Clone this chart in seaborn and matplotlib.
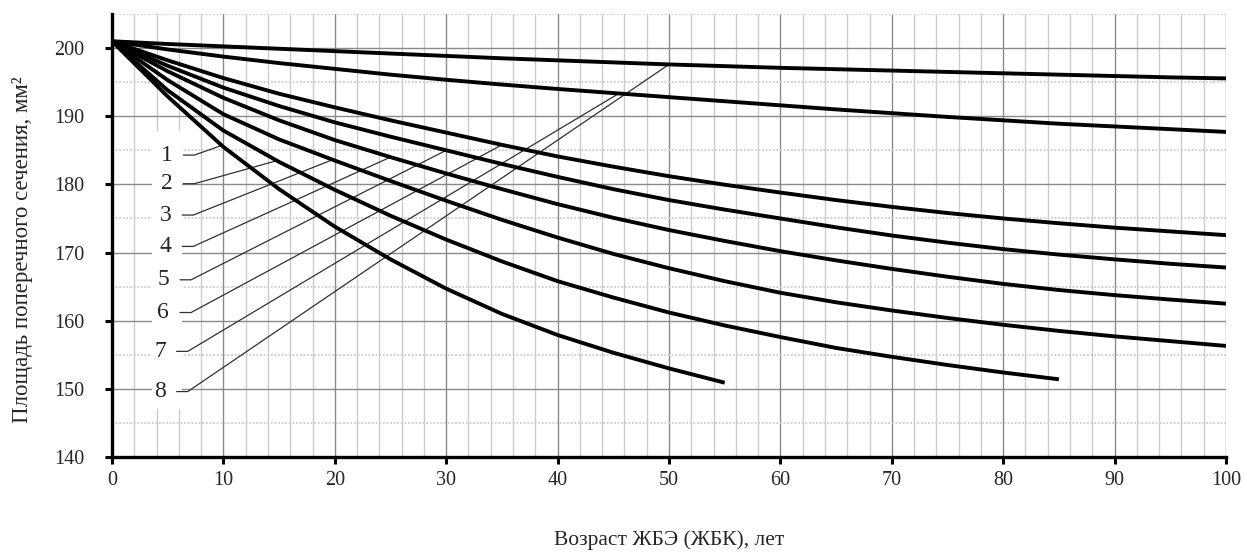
import numpy as np
import pandas as pd
import matplotlib
matplotlib.use("Agg")
import matplotlib.pyplot as plt
from matplotlib.ticker import MultipleLocator
from matplotlib.patches import Rectangle
import seaborn as sns

# ---- data ----
x_full = [0, 5, 10, 15, 20, 25, 30, 35, 40, 45, 50, 55, 60, 65, 70, 75, 80, 85, 90, 95, 100]
curve1 = [201, 200.6, 200.25, 199.9, 199.55, 199.2, 198.85, 198.5, 198.2, 197.9, 197.6,
          197.35, 197.1, 196.9, 196.7, 196.5, 196.3, 196.1, 195.9, 195.7, 195.55]
curve2 = [201, 199.8, 198.75, 197.8, 196.95, 196.1, 195.35, 194.65, 194.0, 193.4, 192.8,
          192.2, 191.6, 191.0, 190.45, 189.9, 189.4, 188.9, 188.5, 188.1, 187.7]
curve3 = [201, 198.2, 195.6, 193.3, 191.3, 189.4, 187.6, 185.8, 184.1, 182.6, 181.2,
          179.95, 178.8, 177.7, 176.7, 175.8, 175.0, 174.3, 173.65, 173.1, 172.55]
curve4 = [201, 197.4, 194.2, 191.5, 189.1, 187.0, 185.0, 183.0, 181.1, 179.3, 177.7,
          176.3, 175.0, 173.7, 172.5, 171.45, 170.5, 169.7, 169.0, 168.35, 167.8]
curve5 = [201, 196.6, 192.7, 189.4, 186.5, 184.0, 181.6, 179.3, 177.1, 175.1, 173.3,
          171.7, 170.2, 168.85, 167.6, 166.45, 165.4, 164.5, 163.75, 163.1, 162.5]
curve6 = [201, 195.3, 190.3, 186.6, 183.5, 180.5, 177.6, 174.8, 172.2, 169.8, 167.7,
          165.8, 164.1, 162.7, 161.5, 160.4, 159.4, 158.5, 157.7, 157.0, 156.3]
x_curve7 = [0, 5, 10, 15, 20, 25, 30, 35, 40, 45, 50, 55, 60, 65, 70, 75, 80, 85]
curve7 = [201, 193.8, 187.9, 183.3, 179.2, 175.4, 171.9, 168.7, 165.8, 163.4, 161.2,
          159.3, 157.6, 156.0, 154.7, 153.5, 152.4, 151.4]
x_curve8 = [0, 5, 10, 15, 20, 25, 30, 35, 40, 45, 50, 55]
curve8 = [201, 192.9, 185.5, 179.3, 173.8, 169.0, 164.7, 161.0, 157.9, 155.3, 153.0, 150.9]

label_texts = ["1", "2", "3", "4", "5", "6", "7", "8"]
label_targets = [8, 7, 6, 5, 4, 3, 2, 1]          # curve each label points to
label_target_x = [9.85, 14.8, 19.8, 25.0, 30.0, 35.0, 45.5, 50.0]

x_ticks = [0, 10, 20, 30, 40, 50, 60, 70, 80, 90, 100]
y_ticks = [140, 150, 160, 170, 180, 190, 200]
x_title = "Возраст ЖБЭ (ЖБК), лет"
y_title = "Площадь поперечного сечения, мм²"

curves = {
    1: (x_full, curve1), 2: (x_full, curve2), 3: (x_full, curve3), 4: (x_full, curve4),
    5: (x_full, curve5), 6: (x_full, curve6), 7: (x_curve7, curve7), 8: (x_curve8, curve8),
}
rows = []
for k, (xs, ys) in curves.items():
    for xv, yv in zip(xs, ys):
        rows.append({"curve": k, "x": xv, "y": yv})
df = pd.DataFrame(rows)

# ---- style ----
sns.set_theme(style="white")
plt.rcParams["font.family"] = ["Liberation Serif", "DejaVu Serif"]

W, H = 1247, 552
fig = plt.figure(figsize=(W / 100, H / 100), dpi=100)
ax = fig.add_axes([112 / W, 1 - 457 / H, (1226 - 112) / W, (457 - 14) / H])

sns.lineplot(data=df, x="x", y="y", units="curve", estimator=None, sort=False,
             color="black", linewidth=2.8, ax=ax, zorder=4)
for ln in ax.lines:
    ln.set_solid_capstyle("butt")
    ln.set_solid_joinstyle("round")

# label positions (layout)
label_y = [184.3, 180.1, 175.5, 170.9, 166.0, 161.2, 155.5, 149.6]
label_x = [4.9, 4.9, 4.8, 4.8, 4.6, 4.6, 4.3, 4.3]

ax.add_patch(Rectangle((3.6, 147.0), 2.65, 40.8, facecolor="white", edgecolor="none", zorder=1))

for txt, tgt, tx, lx, ly in zip(label_texts, label_targets, label_target_x, label_x, label_y):
    xs, ys = curves[tgt]
    ty = float(np.interp(tx, xs, ys))
    ax.text(lx, ly, txt, fontsize=17, ha="center", va="center", zorder=5)
    ax.plot([lx + 1.5, lx + 2.5, tx], [ly, ly, ty], color="#303030", linewidth=0.9, zorder=3)

ax.set_xlim(0, 100)
ax.set_ylim(140, 205)
ax.set_xticks(x_ticks)
ax.set_yticks(y_ticks)
ax.xaxis.set_minor_locator(MultipleLocator(2))
ax.yaxis.set_minor_locator(MultipleLocator(5))
ax.set_axisbelow(True)
ax.grid(which="major", axis="both", color="#8a8a8a", linewidth=1.0, zorder=0)
ax.grid(which="minor", axis="x", color="#cccccc", linewidth=1.0, zorder=0)
ax.grid(which="minor", axis="y", color="#cccccc", linewidth=1.3, linestyle=(0, (1, 1)), zorder=0)

for s in ["top", "right"]:
    ax.spines[s].set_visible(False)
for s in ["left", "bottom"]:
    ax.spines[s].set_color("black")
    ax.spines[s].set_linewidth(2.4)

ax.tick_params(which="major", direction="out", length=5, width=2.2, color="black",
               labelsize=14.5, left=True, bottom=True)
ax.tick_params(axis="y", which="major", pad=15)
ax.tick_params(axis="x", which="major", pad=5)
ax.tick_params(which="minor", length=0)

ax.set_xlabel(x_title, fontsize=15.5)
ax.set_ylabel(y_title, fontsize=16.5)
ax.xaxis.set_label_coords(0.5, -0.165)
ax.yaxis.set_label_coords(-0.071, 0.467)

fig.savefig("out.png", dpi=100)
